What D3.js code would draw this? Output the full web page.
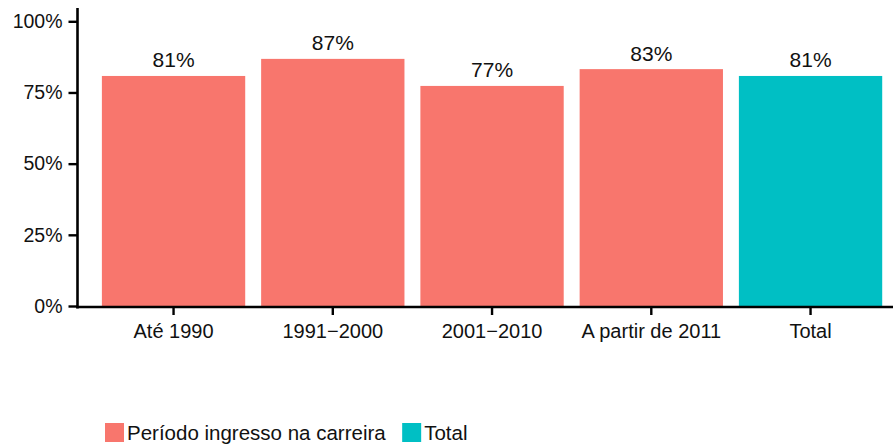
<!DOCTYPE html>
<html>
<head>
<meta charset="utf-8">
<script src="https://cdn.jsdelivr.net/npm/d3@7"></script>
<style>
  html, body { margin: 0; padding: 0; background: #fff; }
  svg { display: block; font-family: "Liberation Sans", Arial, Helvetica, sans-serif; }
</style>
</head>
<body>
<svg id="chart" width="893" height="445"></svg>
<script>
const categories = ["Até 1990", "1991\u22122000", "2001\u22122010", "A partir de 2011", "Total"];
const values = [0.808, 0.868, 0.773, 0.832, 0.808];
const labels = ["81%", "87%", "77%", "83%", "81%"];
const groups = ["Período ingresso na carreira", "Período ingresso na carreira", "Período ingresso na carreira", "Período ingresso na carreira", "Total"];
const legendItems = ["Período ingresso na carreira", "Total"];
const yTicks = [0, 0.25, 0.5, 0.75, 1];
const yTickLabels = ["0%", "25%", "50%", "75%", "100%"];

const svg = d3.select("#chart");
const W = 893, H = 445;
const x0 = 78, y0 = 306, yTop = 21.3;
const step = 159.25;

const x = d3.scaleBand().domain(categories)
  .range([x0, x0 + 5.2 * step]).paddingInner(0.1).paddingOuter(0.15);
const y = d3.scaleLinear().domain([0, 1]).range([y0, yTop]);
const color = d3.scaleOrdinal().domain(legendItems).range(["#F8766D", "#00BFC4"]);

const data = categories.map((c, i) => ({c, v: values[i], l: labels[i], g: groups[i]}));

// bars
svg.append("g").selectAll("rect").data(data).join("rect")
  .attr("x", d => x(d.c))
  .attr("width", x.bandwidth())
  .attr("y", d => y(d.v))
  .attr("height", d => y(0) - y(d.v))
  .attr("fill", d => color(d.g));

// bar labels
svg.append("g").selectAll("text").data(data).join("text")
  .attr("x", d => x(d.c) + x.bandwidth() / 2)
  .attr("y", d => y(d.v) - 8.5)
  .attr("text-anchor", "middle")
  .attr("font-size", "21px")
  .attr("fill", "#111")
  .text(d => d.l);

// y axis
const yAxis = d3.axisLeft(y).tickValues(yTicks)
  .tickFormat((d, i) => yTickLabels[i]).tickSize(9).tickPadding(6);
const gy = svg.append("g").attr("transform", `translate(${x0 - 0.5},0)`).call(yAxis);
gy.select(".domain").attr("d", `M0,8V${y0 + 2.5}`).attr("stroke", "#000").attr("stroke-width", 2.6);
gy.selectAll(".tick line").attr("stroke", "#000").attr("stroke-width", 2.4);
gy.selectAll(".tick text").attr("font-size", "19.5px").attr("fill", "#111")
  .attr("font-family", "Liberation Sans, Arial, sans-serif");

// x axis
const xAxis = d3.axisBottom(x).tickSize(8).tickPadding(9);
const gx = svg.append("g").attr("transform", `translate(0,${y0 + 1})`).call(xAxis);
gx.select(".domain").attr("d", `M${x0 - 1.8},0H${W + 20}`).attr("stroke", "#000").attr("stroke-width", 2.6);
gx.selectAll(".tick line").attr("stroke", "#000").attr("stroke-width", 2.4);
gx.selectAll(".tick text").attr("font-size", "20px").attr("fill", "#111")
  .attr("font-family", "Liberation Sans, Arial, sans-serif");

// legend
const leg = svg.append("g");
let lx = 105;
legendItems.forEach((name, i) => {
  leg.append("rect").attr("x", lx).attr("y", 423).attr("width", 19).attr("height", 19)
    .attr("fill", color(name));
  const t = leg.append("text").attr("x", lx + 22).attr("y", 440)
    .attr("font-size", "20.5px").attr("fill", "#111").text(name);
  lx = lx + 22 + t.node().getComputedTextLength() + 16.5;
});
</script>
</body>
</html>
